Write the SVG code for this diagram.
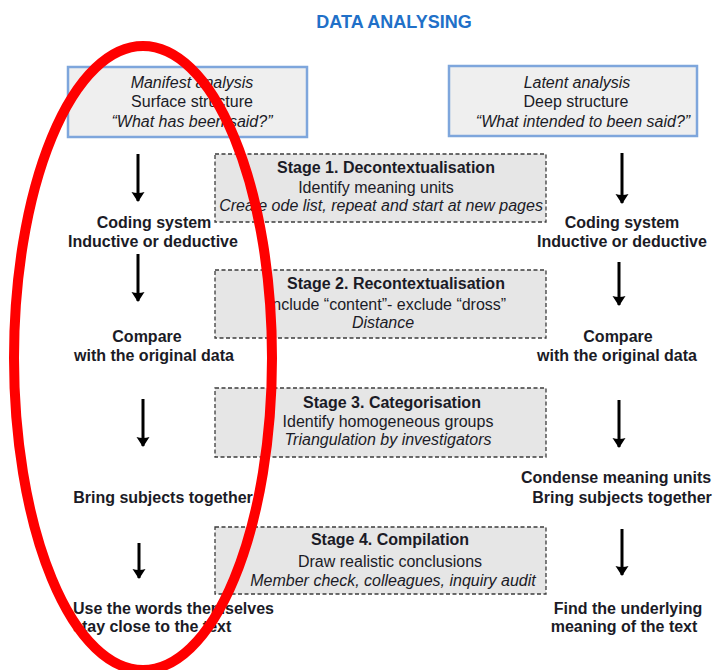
<svg xmlns="http://www.w3.org/2000/svg" width="713" height="670" viewBox="0 0 713 670">
  <style>
    text { font-family: "Liberation Sans", Arial, sans-serif; fill: #1b1b26; font-size: 16px; }
    .title { font-size: 18px; font-weight: bold; fill: #2170c8; text-anchor: middle; }
    .mid { text-anchor: middle; }
    .b { font-weight: bold; }
    .i { font-style: italic; }
    .analysis { fill: #efefef; stroke: #7ea6dc; stroke-width: 2.5; }
    .stage { fill: #e6e6e6; stroke: #3c3c3c; stroke-width: 1.3; stroke-dasharray: 4 2.5; }
    .arrow { stroke: #000; stroke-width: 3; fill: none; marker-end: url(#head); }
    .mark { fill: none; stroke: #ff0000; stroke-width: 10; }
  </style>
  <defs>
    <marker id="head" viewBox="0 -7 10 14" markerUnits="userSpaceOnUse" markerWidth="10" markerHeight="14" refX="9" refY="0" orient="auto">
      <path d="M0,-6.5 L10,0 L0,6.5 Q2,0 0,-6.5 z" fill="#000"/>
    </marker>
  </defs>

  <rect width="713" height="670" fill="#ffffff"/>

  <text class="title" x="394" y="28">DATA ANALYSING</text>

  <!-- analysis headers -->
  <g id="manifest">
    <rect class="analysis" x="68" y="67" width="239" height="70"/>
    <text class="mid i" x="192" y="88">Manifest analysis</text>
    <text class="mid" x="192" y="107">Surface structure</text>
    <text class="mid i" x="192" y="127">“What has been said?”</text>
  </g>
  <g id="latent">
    <rect class="analysis" x="449" y="66" width="248" height="70"/>
    <text class="mid i" x="577" y="88">Latent analysis</text>
    <text class="mid" x="576" y="107">Deep structure</text>
    <text class="mid i" x="583" y="127">“What intended to been said?”</text>
  </g>

  <!-- stages -->
  <g id="stage1">
    <rect class="stage" x="215" y="154" width="331" height="68"/>
    <text class="mid b" x="386" y="173">Stage 1. Decontextualisation</text>
    <text class="mid" x="376" y="193">Identify meaning units</text>
    <text class="mid i" x="381" y="211">Create ode list, repeat and start at new pages</text>
  </g>
  <g id="stage2">
    <rect class="stage" x="215" y="270" width="331" height="68"/>
    <text class="mid b" x="396" y="289">Stage 2. Recontextualisation</text>
    <text class="mid" x="387" y="310">Include “content”- exclude “dross”</text>
    <text class="mid i" x="383" y="328">Distance</text>
  </g>
  <g id="stage3">
    <rect class="stage" x="215" y="388" width="331" height="69"/>
    <text class="mid b" x="392" y="408">Stage 3. Categorisation</text>
    <text class="mid" x="388" y="427">Identify homogeneous groups</text>
    <text class="mid i" x="388" y="445">Triangulation by investigators</text>
  </g>
  <g id="stage4">
    <rect class="stage" x="215" y="527" width="331" height="67"/>
    <text class="mid b" x="390" y="545">Stage 4. Compilation</text>
    <text class="mid" x="390" y="567">Draw realistic conclusions</text>
    <text class="mid i" x="393" y="586">Member check, colleagues, inquiry audit</text>
  </g>

  <!-- manifest column steps -->
  <g id="m-coding">
    <text class="mid b" x="154" y="228">Coding system</text>
    <text class="mid b" x="153" y="247">Inductive or deductive</text>
  </g>
  <g id="m-compare">
    <text class="mid b" x="147" y="342">Compare</text>
    <text class="mid b" x="154" y="361">with the original data</text>
  </g>
  <g id="m-bring">
    <text class="mid b" x="163" y="503">Bring subjects together</text>
  </g>
  <g id="m-words">
    <text class="b" x="73" y="614">Use the words themselves</text>
    <text class="b" x="73" y="632">stay close to the text</text>
  </g>

  <!-- latent column steps -->
  <g id="l-coding">
    <text class="mid b" x="622" y="228">Coding system</text>
    <text class="mid b" x="622" y="247">Inductive or deductive</text>
  </g>
  <g id="l-compare">
    <text class="mid b" x="618" y="342">Compare</text>
    <text class="mid b" x="617" y="361">with the original data</text>
  </g>
  <g id="l-condense">
    <text class="mid b" x="616" y="483">Condense meaning units</text>
    <text class="mid b" x="622" y="503">Bring subjects together</text>
  </g>
  <g id="l-find">
    <text class="mid b" x="628" y="614">Find the underlying</text>
    <text class="mid b" x="624" y="632">meaning of the text</text>
  </g>

  <!-- connectors -->
  <g id="connectors">
    <line class="arrow" x1="138" y1="154" x2="138" y2="201"/>
    <line class="arrow" x1="138" y1="254" x2="138" y2="301"/>
    <line class="arrow" x1="143" y1="399" x2="143" y2="446"/>
    <line class="arrow" x1="139" y1="543" x2="139" y2="578"/>
    <line class="arrow" x1="622" y1="153" x2="622" y2="203"/>
    <line class="arrow" x1="619" y1="262" x2="619" y2="305"/>
    <line class="arrow" x1="619" y1="400" x2="619" y2="447"/>
    <line class="arrow" x1="622" y1="529" x2="622" y2="575"/>
  </g>

  <!-- highlight around the manifest column -->
  <ellipse class="mark" cx="143" cy="358" rx="129" ry="312"/>
</svg>
